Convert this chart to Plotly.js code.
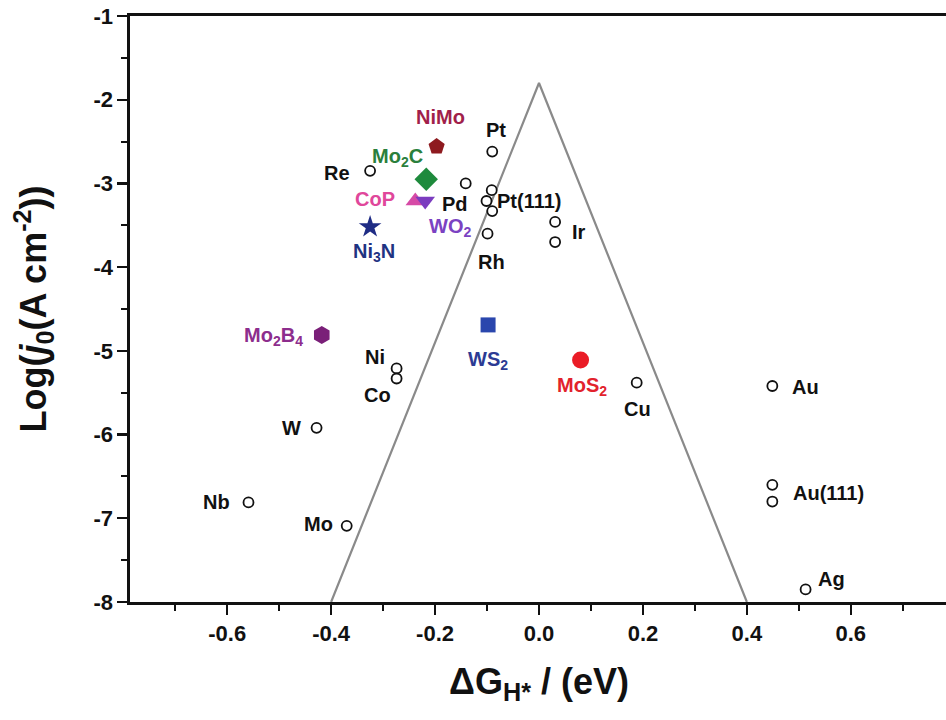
<!DOCTYPE html>
<html>
<head>
<meta charset="utf-8">
<script src="https://cdn.plot.ly/plotly-3.0.1.min.js"></script>
<style>
  html, body { margin: 0; padding: 0; overflow: hidden; background: #fff; }
  #chart { width: 962px; height: 720px; }
</style>
</head>
<body>
<div id="chart"></div>
<script>
// ---- data ----
// open-circle metals
const metalNames = ["Pt", "Re", "Pd", "Pt(111)", "Pt(111)", "Pt(111)", "Rh", "Ir", "Ir",
                    "Ni", "Co", "W", "Nb", "Mo", "Cu", "Au", "Au(111)", "Au(111)", "Ag"];
const metalDG = [-0.090, -0.325, -0.141, -0.091, -0.101, -0.090, -0.099, 0.031, 0.031,
                 -0.274, -0.274, -0.428, -0.559, -0.370, 0.188, 0.449, 0.449, 0.449, 0.513];
const metalLogJ = [-2.62, -2.85, -3.00, -3.08, -3.21, -3.33, -3.60, -3.46, -3.70,
                   -5.21, -5.33, -5.92, -6.81, -7.09, -5.38, -5.42, -6.60, -6.80, -7.85];

// catalysts (filled symbols)
const catNames = ["NiMo", "Mo<sub>2</sub>C", "CoP", "WO<sub>2</sub>", "Ni<sub>3</sub>N",
                  "Mo<sub>2</sub>B<sub>4</sub>", "WS<sub>2</sub>", "MoS<sub>2</sub>"];
const catDG = [-0.197, -0.217, -0.238, -0.219, -0.325, -0.418, -0.098, 0.080];
const catLogJ = [-2.56, -2.95, -3.21, -3.21, -3.52, -4.81, -4.69, -5.11];

// volcano lines
const volcanoDG = [-0.4, 0.0, 0.4];
const volcanoLogJ = [-8, -1.8, -8];

// tick labels
const xTickVals = [-0.6, -0.4, -0.2, 0.0, 0.2, 0.4, 0.6];
const xTickText = ["-0.6", "-0.4", "-0.2", "0.0", "0.2", "0.4", "0.6"];
const yTickVals = [-1, -2, -3, -4, -5, -6, -7, -8];
const yTickText = ["-1", "-2", "-3", "-4", "-5", "-6", "-7", "-8"];

// label placement (data coordinates)
const metalLabels = ["Pt", "Re", "Pd", "Pt(111)", "Rh", "Ir", "Ni", "Co", "W", "Nb", "Mo", "Cu", "Au", "Au(111)", "Ag"];
const metalLabelDG = [-0.083, -0.360, -0.133, -0.085, -0.091, 0.060, -0.2925, -0.281, -0.454, -0.591, -0.3925, 0.190, 0.483, 0.485, 0.533];
const metalLabelLogJ = [-2.36, -2.87, -3.25, -3.21, -3.94, -3.58, -5.07, -5.53, -5.92, -6.80, -7.07, -5.70, -5.43, -6.70, -7.73];
const catLabelDG = [-0.189, -0.272, -0.273, -0.172, -0.318, -0.450, -0.098, 0.082];
const catLabelLogJ = [-2.205, -2.69, -3.18, -3.53, -3.82, -4.83, -5.11, -5.43];

// ---- styles ----
const metalAnchor = ["center", "right", "right", "left", "center", "left", "right", "right", "right", "right", "right", "center", "left", "left", "left"];
const catAnchor = ["center", "center", "right", "center", "center", "right", "center", "center"];
const catSymbols = ["pentagon", "diamond", "triangle-up", "triangle-down", "star", "hexagon", "square", "circle"];
const catColors = ["#8e1a1f", "#1e8a3c", "#d64aa6", "#7b3cbf", "#1f2c85", "#7a1f78", "#2a46ad", "#ea1c26"];
const catSizes = [17, 18, 17, 17, 17, 18, 15, 17];
const catTextColors = ["#a11f4b", "#2a7f3c", "#e0479b", "#7b42c2", "#1f3382", "#8d2d8d", "#2c3b94", "#e2222c"];

const FONT = "Liberation Sans, Arial, Helvetica, sans-serif";

const traces = [
  {
    x: volcanoDG, y: volcanoLogJ, type: "scatter", mode: "lines",
    line: { color: "#8a8a8a", width: 2.2 }, hoverinfo: "skip", showlegend: false
  },
  {
    x: metalDG, y: metalLogJ, text: metalNames, type: "scatter", mode: "markers",
    marker: { symbol: "circle", size: 10, color: "#ffffff", opacity: 1, line: { color: "#111", width: 1.8 } },
    showlegend: false, cliponaxis: false
  },
  {
    x: catDG, y: catLogJ, text: catNames, type: "scatter", mode: "markers",
    marker: { symbol: catSymbols, size: catSizes, color: catColors, opacity: 1, line: { width: 0 } },
    showlegend: false, cliponaxis: false
  }
];

const annotations = [];
metalLabels.forEach((t, i) => annotations.push({
  x: metalLabelDG[i], y: metalLabelLogJ[i], xref: "x", yref: "y",
  text: "<b>" + t + "</b>", showarrow: false, xanchor: metalAnchor[i], yanchor: "middle",
  font: { family: FONT, size: 20, color: "#111" }
}));
catNames.forEach((t, i) => annotations.push({
  x: catLabelDG[i], y: catLabelLogJ[i], xref: "x", yref: "y",
  text: "<b>" + t + "</b>", showarrow: false, xanchor: catAnchor[i], yanchor: "middle",
  font: { family: FONT, size: 20, color: catTextColors[i] }
}));

const layout = {
  width: 962, height: 720,
  margin: { l: 130, r: 14, t: 16, b: 118, pad: 0 },
  paper_bgcolor: "#ffffff", plot_bgcolor: "#ffffff",
  font: { family: FONT, color: "#111" },
  showlegend: false,
  xaxis: {
    range: [-0.787, 0.787], showgrid: false, zeroline: false,
    showline: true, linecolor: "#111", linewidth: 2.6, mirror: true,
    ticks: "outside", ticklen: 10, tickwidth: 2.4, tickcolor: "#111",
    tickmode: "array", tickvals: xTickVals, ticktext: xTickText,
    tickfont: { family: FONT, size: 22, color: "#111", weight: "bold" },
    minor: { tickmode: "linear", tick0: 0, dtick: 0.1, ticks: "outside", ticklen: 6, tickwidth: 2, tickcolor: "#111" },
    title: { text: "<b>ΔG<sub>H*</sub> / (eV)</b>", font: { family: FONT, size: 36, color: "#111" }, standoff: 24 }
  },
  yaxis: {
    range: [-8, -1], showgrid: false, zeroline: false,
    showline: true, linecolor: "#111", linewidth: 2.6, mirror: true,
    ticks: "outside", ticklen: 10, tickwidth: 2.4, tickcolor: "#111",
    tickmode: "array", tickvals: yTickVals, ticktext: yTickText,
    tickfont: { family: FONT, size: 22, color: "#111", weight: "bold" },
    minor: { tickmode: "linear", tick0: 0, dtick: 0.5, ticks: "outside", ticklen: 6, tickwidth: 2, tickcolor: "#111" },
    title: { text: "<b>Log(<i>j</i><sub>0</sub>(A cm<sup>-2</sup>))</b>", font: { family: FONT, size: 36, color: "#111" }, standoff: 36 }
  },
  annotations: annotations
};

Plotly.newPlot("chart", traces, layout, { displayModeBar: false, staticPlot: true });
</script>
</body>
</html>
